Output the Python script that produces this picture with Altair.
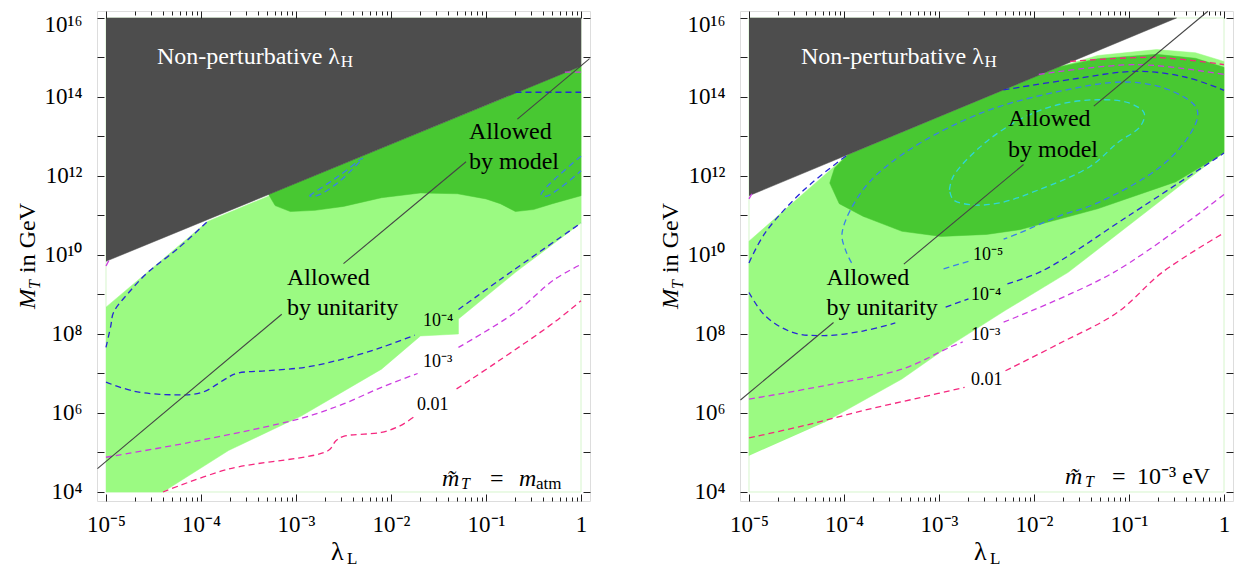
import altair as alt
import pandas as pd

FONT = "Liberation Serif"

# ---------------- axes ----------------
X_MIN_EXP, X_MAX_EXP = -5.0947, 0.0947
Y_MIN_EXP, Y_MAX_EXP = 3.772, 16.177
MAJOR_X = [1e-5, 1e-4, 1e-3, 1e-2, 1e-1, 1.0]
MINOR_X = [k * 10.0 ** e for e in range(-5, 0) for k in range(2, 10)]
Y_TICKS = [10.0 ** e for e in range(4, 17)]
X_LABELS = ["10⁻⁵", "10⁻⁴", "10⁻³", "10⁻²", "10⁻¹", "1"]
Y_LABELS = ["10⁴", "", "10⁶", "", "10⁸", "", "10¹⁰", "", "10¹²", "", "10¹⁴", "", "10¹⁶"]

# ---------------- colours ----------------
C_LIGHT = "#9bfa82"
C_MODEL = "#48c832"
C_NP = "#4d4d4d"
C_BLUE = "#2727d6"
C_BLUE2 = "#3a7fe8"
C_CYAN = "#2fd6d6"
C_MAG = "#cc3ce0"
C_PINK = "#f5287f"
C_LINE = "#454545"
C_EDGE = "#d6f5cc"

# ---------------- data (log10 values) ----------------
EDGE_X = [-5, 0, 0, -5, -5]
EDGE_Y = [4, 4, 16, 16, 4]

# left panel: m_T = m_atm
L_NP_X = [-5, 0, 0, -5]
L_NP_Y = [16, 16, 14.78, 9.84]
L_UNI_X = [-5, -4.40, -3.71, -2.94, -2.10, -1.69, -1.29, -1.29, -0.69, 0, 0, -3.93, -5]
L_UNI_Y = [4.0, 4.0, 5.05, 5.93, 7.11, 7.95, 8.0, 8.38, 9.56, 10.81, 14.78, 10.85, 8.68]
L_MOD_X = [-3.29, -3.22, -3.06, -2.8, -2.5, -2.1, -1.69, -1.3, -1.0, -0.85, -0.69, -0.5, -0.3, 0, 0]
L_MOD_Y = [11.54, 11.25, 11.1, 11.13, 11.23, 11.45, 11.57, 11.55, 11.42, 11.3, 11.1, 11.15, 11.3, 11.5, 14.78]

L_BLUE = [
    ([-5, -4.95, -4.92, -4.76, -4.56, -4.25, -3.93], [7.66, 8.2, 8.55, 9.05, 9.56, 10.15, 10.85]),
    ([-5, -4.7, -4.27, -3.99, -3.75, -3.63, -3.31, -2.90, -2.5, -2.10, -1.75],
     [6.78, 6.55, 6.46, 6.52, 6.85, 7.0, 7.07, 7.16, 7.37, 7.66, 7.97]),
    ([-1.29, -0.85, 0], [8.62, 9.38, 10.81]),
    ([-0.69, 0], [14.12, 14.12]),
]
L_BLUE2 = [
    ([-2.86, -2.55, -2.30, -2.55, -2.78, -2.86], [11.5, 12.0, 12.45, 11.85, 11.5, 11.5]),
    ([0, -0.42, -0.36, 0], [12.5, 11.53, 11.49, 12.13]),
]
L_MAG = [
    ([-5, -4.11, -2.94, -2.5, -2.1, -1.72], [4.88, 5.26, 5.87, 6.23, 6.65, 7.0]),
    ([-1.29, -0.69, -0.28, 0], [7.66, 8.55, 9.38, 9.76]),
    ([-5, -4.97], [9.72, 9.86]),
    ([-0.17, 0], [14.63, 14.63]),
]
L_PINK = [
    ([-4.40, -3.71, -2.66, -2.58, -2.5, -2.1, -1.90, -1.76], [4.0, 4.58, 5.05, 5.30, 5.41, 5.51, 5.68, 5.9]),
    ([-1.31, -0.89, -0.28, 0], [6.61, 7.28, 8.30, 8.84]),
]
L_BLACK = [
    ([-5.09, -3.15], [4.59, 8.5]),
    ([-2.5, -1.21], [9.78, 12.36]),
    ([-0.67, 0.09], [13.44, 14.97]),
]
L_TEXT = [
    ("Non-perturbative λ", -4.463, 14.84, 24, "white"),
    ("H", -2.53, 14.76, 17, "white"),
    ("Allowed", -1.179, 12.94, 24, "black"),
    ("by model", -1.179, 12.18, 24, "black"),
    ("Allowed", -3.095, 9.25, 24, "black"),
    ("by unitarity", -3.095, 8.49, 24, "black"),
    ("10⁻⁴", -1.663, 8.21, 18, "black"),
    ("10⁻³", -1.663, 7.16, 18, "black"),
    ("0.01", -1.726, 6.08, 18, "black"),
    ("=", -0.958, 4.152, 24, "black"),
    ("atm", -0.474, 4.076, 17, "black"),
]
L_ITALIC = [
    ("m\u0303", -1.463, 4.152, 24),
    ("T", -1.263, 4.076, 16),
    ("m", -0.653, 4.152, 24),
]

# right panel: m_T = 1e-3 eV
R_NP_X = [-5, -0.5, -5]
R_NP_Y = [16, 16, 11.5]
R_UNI_X = [-5, -5, -3.96, -1.74, -1.33, -0.71, -0.3, 0, 0, -1.64, -2.3, -2.89, -3.39, -4.21]
R_UNI_Y = [4.92, 10.35, 12.54, 14.76, 15.05, 15.2, 15.12, 14.9, 12.62, 9.56, 8.6, 7.70, 6.86, 5.76]
R_MOD_X = [-3.96, -4.1, -4.15, -4.05, -3.80, -3.39, -2.98, -2.5, -2.15, -1.33, -0.51, 0, 0, -0.3, -0.71, -1.33, -1.74]
R_MOD_Y = [12.54, 12.2, 11.82, 11.3, 10.98, 10.6, 10.47, 10.52, 10.64, 11.17, 11.85, 12.58, 14.75, 14.98, 15.08, 14.97, 14.76]

R_BLUE = [
    ([-5, -4.83, -4.42, -3.96], [9.8, 10.56, 11.65, 12.54]),
    ([-5, -4.83, -4.54, -4.21, -3.79, -3.46], [9.05, 8.46, 8.04, 7.96, 8.08, 8.28]),
    ([-2.93, -2.69], [8.68, 8.89]),
    ([-2.28, -1.91, -1.0, 0], [9.27, 9.6, 11.0, 12.58]),
    ([-2.32, -1.6, -0.92, -0.4, 0], [14.18, 14.45, 14.65, 14.5, 14.17]),
]
R_BLUE2 = [
    ([-3.92, -3.98, -4.02, -3.80, -3.39, -2.56, -1.74, -1.04, -0.59, -0.30, -0.28, -0.42, -0.71, -1.33, -1.74, -2.15, -2.32],
     [9.8, 10.1, 10.56, 11.65, 12.54, 13.59, 14.14, 14.38, 14.19, 13.76, 13.47, 12.84, 12.16, 11.32, 10.98, 10.56, 10.4]),
    ([-2.69, -2.98], [9.84, 9.63]),
]
R_CYAN = [
    ([-2.89, -2.85, -2.56, -2.15, -1.74, -1.33, -1.0, -0.84, -0.88, -1.12, -1.41, -1.95, -2.36, -2.65, -2.85, -2.89],
     [11.65, 11.99, 12.75, 13.43, 13.81, 13.93, 13.85, 13.59, 13.26, 12.84, 12.24, 11.65, 11.32, 11.27, 11.4, 11.65]),
]
R_MAG = [
    ([-5, -4.21, -3.39, -2.89, -2.75], [6.35, 6.69, 7.11, 7.66, 7.8]),
    ([-2.32, -1.16, 0], [8.30, 9.56, 11.53]),
    ([-1.95, -0.92, 0], [14.57, 14.82, 14.57]),
    ([-5, -4.97], [11.42, 11.55]),
]
R_PINK = [
    ([-5, -4.42, -3.80, -3.18, -2.73], [5.37, 5.68, 6.06, 6.40, 6.65]),
    ([-2.30, -1.74, -1.12, -0.65, 0], [7.07, 7.75, 8.55, 9.56, 10.56]),
    ([-1.62, -0.71, 0], [14.90, 15.0, 14.82]),
]
R_BLACK = [
    ([-5.09, -4.11], [6.33, 8.29]),
    ([-3.37, -2.11], [9.77, 12.29]),
    ([-1.37, -0.17], [13.77, 16.17]),
]
R_TEXT = [
    ("Non-perturbative λ", -4.453, 14.84, 24, "white"),
    ("H", -2.52, 14.76, 17, "white"),
    ("Allowed", -2.274, 13.26, 24, "black"),
    ("by model", -2.274, 12.48, 24, "black"),
    ("Allowed", -4.184, 9.25, 24, "black"),
    ("by unitarity", -4.184, 8.49, 24, "black"),
    ("10⁻⁵", -2.642, 9.88, 18, "black"),
    ("10⁻⁴", -2.663, 8.87, 18, "black"),
    ("10⁻³", -2.663, 7.86, 18, "black"),
    ("0.01", -2.663, 6.72, 18, "black"),
    ("=", -1.179, 4.203, 24, "black"),
    ("10⁻³ eV", -0.916, 4.203, 24, "black"),
]
R_ITALIC = [
    ("m\u0303", -1.674, 4.203, 24),
    ("T", -1.463, 4.127, 16),
]

# ---------------- helpers ----------------
XS = alt.Scale(type="log", domain=[10 ** X_MIN_EXP, 10 ** X_MAX_EXP], nice=False)
YS = alt.Scale(type="log", domain=[10 ** Y_MIN_EXP, 10 ** Y_MAX_EXP], nice=False)

XLAB_EXPR = "[" + ",".join("'%s'" % s for s in X_LABELS) + "][round(log(datum.value)/LN10)+5]"
YLAB_EXPR = "[" + ",".join("'%s'" % s for s in Y_LABELS) + "][round(log(datum.value)/LN10)-4]"

MAJ, MIN = 7, 4


def axis(orient, values, size, label_expr=None, pad=0, top_shift=False):
    d = dict(orient=orient, values=values, tickSize=size, offset=-size, domain=False,
             grid=False, tickColor="#222222", tickWidth=1, title=None, zindex=1)
    if label_expr:
        d.update(labelExpr=label_expr, labelFont=FONT, labelFontSize=23, labelColor="black",
                 labelPadding=pad, labelFlush=False, labelOverlap=False)
        if top_shift:
            d["labelOffset"] = {"condition": {"test": "datum.value > 1e15", "value": 7}, "value": 0}
    else:
        d.update(labels=False)
    return alt.Axis(**d)


def poly_df(xe, ye):
    return pd.DataFrame({"x": [10.0 ** v for v in xe], "y": [10.0 ** v for v in ye],
                         "i": list(range(len(xe)))})


def segs_df(segs):
    rows = []
    for s, (xe, ye) in enumerate(segs):
        for i, (a, b) in enumerate(zip(xe, ye)):
            rows.append({"x": 10.0 ** a, "y": 10.0 ** b, "s": s, "i": i})
    return pd.DataFrame(rows)


def text_df(items):
    rows = []
    for it in items:
        r = {"t": it[0], "x": 10.0 ** it[1], "y": 10.0 ** it[2], "size": it[3]}
        if len(it) > 4:
            r["color"] = it[4]
        rows.append(r)
    return pd.DataFrame(rows)


def X(ax):
    return alt.X("x:Q", scale=XS, axis=ax)


def Y(ax):
    return alt.Y("y:Q", scale=YS, axis=ax)


def make_panel(np_x, np_y, uni_x, uni_y, mod_x, mod_y, contours, black, texts, italics):
    layers = []
    layers.append(alt.Chart(poly_df(EDGE_X, EDGE_Y)).mark_line(color=C_EDGE, strokeWidth=1).encode(
        x=X(axis("bottom", MAJOR_X, MAJ, XLAB_EXPR, 12)),
        y=Y(axis("left", Y_TICKS, MAJ, YLAB_EXPR, 15, True)), order="i:Q"))
    layers.append(alt.Chart(poly_df(uni_x, uni_y)).mark_line(fill=C_LIGHT, stroke=C_LIGHT, strokeWidth=0.5).encode(
        x=X(axis("bottom", MINOR_X, MIN)), y=Y(axis("right", Y_TICKS, MAJ)), order="i:Q"))
    layers.append(alt.Chart(poly_df(mod_x, mod_y)).mark_line(fill=C_MODEL, stroke=C_MODEL, strokeWidth=0.5).encode(
        x=X(axis("top", MAJOR_X, MAJ)), y=Y(None), order="i:Q"))
    layers.append(alt.Chart(poly_df(np_x, np_y)).mark_line(fill=C_NP, stroke=C_NP, strokeWidth=0.5).encode(
        x=X(axis("top", MINOR_X, MIN)), y=Y(None), order="i:Q"))
    for col, segs in contours:
        layers.append(alt.Chart(segs_df(segs)).mark_line(
            color=col, strokeDash=[6, 4], strokeWidth=1.3, interpolate="catmull-rom").encode(
            x=X(None), y=Y(None), detail="s:N", order="i:Q"))
    layers.append(alt.Chart(segs_df(black)).mark_line(color=C_LINE, strokeWidth=1.1).encode(
        x=X(None), y=Y(None), detail="s:N", order="i:Q"))
    layers.append(alt.Chart(text_df(texts)).mark_text(font=FONT, align="left", baseline="alphabetic").encode(
        x=X(None), y=Y(None), text="t:N",
        size=alt.Size("size:Q", scale=None), color=alt.Color("color:N", scale=None)))
    layers.append(alt.Chart(text_df(italics)).mark_text(font=FONT, fontStyle="italic", align="left",
                                                        baseline="alphabetic", color="black").encode(
        x=X(None), y=Y(None), text="t:N", size=alt.Size("size:Q", scale=None)))

    # axis titles (M_T in GeV, lambda_L)
    def ttl(t, px, py, size, italic=False, angle=0):
        kw = dict(font=FONT, fontSize=size, align="left", baseline="alphabetic", color="black")
        if italic:
            kw["fontStyle"] = "italic"
        if angle:
            kw["angle"] = angle
        return alt.Chart(pd.DataFrame({"t": [t]})).mark_text(**kw).encode(
            x=alt.value(px), y=alt.value(py), text="t:N")
    layers.append(ttl("M", -62, 298, 24, True, 270))
    layers.append(ttl("T", -57, 278, 16, True, 270))
    layers.append(ttl("in GeV", -62, 262, 24, False, 270))
    layers.append(ttl("λ", 234, 549, 26))
    layers.append(ttl("L", 250, 553, 17))
    return alt.layer(*layers).properties(width=493, height=490).resolve_axis(x="independent", y="independent")


left = make_panel(L_NP_X, L_NP_Y, L_UNI_X, L_UNI_Y, L_MOD_X, L_MOD_Y,
                  [(C_BLUE, L_BLUE), (C_BLUE2, L_BLUE2), (C_MAG, L_MAG), (C_PINK, L_PINK)],
                  L_BLACK, L_TEXT, L_ITALIC)
right = make_panel(R_NP_X, R_NP_Y, R_UNI_X, R_UNI_Y, R_MOD_X, R_MOD_Y,
                   [(C_BLUE, R_BLUE), (C_BLUE2, R_BLUE2), (C_CYAN, R_CYAN), (C_MAG, R_MAG), (C_PINK, R_PINK)],
                   R_BLACK, R_TEXT, R_ITALIC)

chart = alt.hconcat(left, right, spacing=65).properties(
    padding={"left": 7, "top": 0, "right": 0, "bottom": 4}
).configure_view(stroke="#222222", strokeWidth=1.5).configure(font=FONT)

chart.save("out.html", embed_options={"renderer": "svg", "actions": False})
